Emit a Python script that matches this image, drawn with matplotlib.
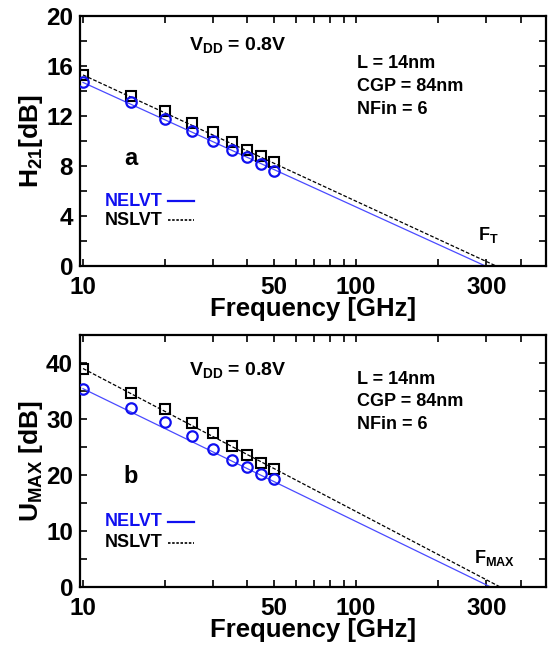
import numpy as np
import matplotlib
matplotlib.use("Agg")
import matplotlib.pyplot as plt
from matplotlib.ticker import FixedLocator, NullFormatter, MultipleLocator

plt.rcParams.update({
    "font.family": ["Liberation Sans", "DejaVu Sans"],
    "font.weight": "bold",
    "axes.labelweight": "bold",
    "mathtext.fontset": "custom",
    "mathtext.rm": "Liberation Sans:bold",
    "mathtext.it": "Liberation Sans:bold",
    "mathtext.bf": "Liberation Sans:bold",
    "mathtext.default": "rm",
    "axes.linewidth": 1.6,
    "xtick.direction": "in",
    "ytick.direction": "in",
    "xtick.top": True,
    "ytick.right": True,
    "xtick.major.size": 5,
    "ytick.major.size": 5,
    "xtick.minor.size": 5,
    "ytick.minor.size": 5,
    "xtick.major.width": 1.2,
    "ytick.major.width": 1.2,
    "xtick.minor.width": 1.2,
    "ytick.minor.width": 1.2,
})

# measured frequencies [GHz]
freq = [10, 15, 20, 25, 30, 35, 40, 45, 50]

# current gain |H21| [dB]
h21_nelvt = [14.7, 13.1, 11.8, 10.85, 10.05, 9.3, 8.7, 8.15, 7.65]
h21_nslvt = [15.3, 13.6, 12.4, 11.45, 10.7, 9.95, 9.3, 8.85, 8.3]

# unilateral gain U [dB]
umax_nelvt = [35.3, 31.9, 29.4, 26.9, 24.6, 22.6, 21.4, 20.1, 19.3]
umax_nslvt = [38.9, 34.7, 31.7, 29.2, 27.4, 25.2, 23.6, 22.2, 21.0]

# extrapolation lines: (start freq, start gain) -> (cut-off freq, 0 dB)
fit_h21_nelvt = ([10, 298], [14.7, 0])
fit_h21_nslvt = ([10, 326], [15.3, 0])
fit_umax_nelvt = ([10, 311], [35.4, 0])
fit_umax_nslvt = ([10, 337], [39.0, 0])

xticks = [10, 50, 100, 300]
xminor = [20, 30, 40, 60, 70, 80, 90, 200, 400]

BLUE = "#1010f0"
BLUE_LINE = "#4a4aff"

fig = plt.figure(figsize=(5.48, 6.49), dpi=100)
ax1 = fig.add_axes([0.146, 0.590, 0.850, 0.385])
ax2 = fig.add_axes([0.146, 0.0955, 0.850, 0.3885])


def draw_panel(ax, fit_b, fit_k, y_b, y_k):
    ax.plot(*fit_b, color=BLUE_LINE, lw=0.9, zorder=2)
    ax.plot(*fit_k, color="black", lw=0.9, ls=(0, (3, 1.5)), zorder=2)
    ax.plot(freq, y_k, ls="none", marker="s", ms=6.5, mfc="none",
            mec="black", mew=1.5, zorder=3)
    ax.plot(freq, y_b, ls="none", marker="o", ms=7.5, mfc="none",
            mec=BLUE, mew=1.6, zorder=3)
    ax.set_xscale("log")
    ax.set_xlim(9.75, 495)
    ax.xaxis.set_major_locator(FixedLocator(xticks))
    ax.xaxis.set_major_formatter(plt.FixedFormatter([str(t) for t in xticks]))
    ax.xaxis.set_minor_locator(FixedLocator(xminor))
    ax.xaxis.set_minor_formatter(NullFormatter())
    ax.tick_params(axis="x", labelsize=17.5, pad=7)
    ax.tick_params(axis="y", labelsize=17.5, pad=5)
    ax.set_xlabel("Frequency [GHz]", fontsize=18.5, labelpad=-1)


draw_panel(ax1, fit_h21_nelvt, fit_h21_nslvt, h21_nelvt, h21_nslvt)
ax1.set_ylim(0, 20)
ax1.yaxis.set_major_locator(MultipleLocator(4))
ax1.yaxis.set_minor_locator(MultipleLocator(2))
ax1.set_ylabel("H$_{21}$[dB]", fontsize=19, labelpad=1)

draw_panel(ax2, fit_umax_nelvt, fit_umax_nslvt, umax_nelvt, umax_nslvt)
ax2.set_ylim(0, 45)
ax2.yaxis.set_major_locator(MultipleLocator(10))
ax2.yaxis.set_minor_locator(MultipleLocator(5))
ax2.set_ylabel("U$_{MAX}$ [dB]", fontsize=19, labelpad=1)

# text positions per panel (axes fractions)
panels = [
    (ax1, "a", "F$_T$", dict(vdd=0.884, info=0.72, tag=0.432,
                             leg=(0.26, 0.184), fx=0.854, fy=0.124)),
    (ax2, "b", "F$_{MAX}$", dict(vdd=0.861, info=0.734, tag=0.437,
                                 leg=(0.258, 0.175), fx=0.845, fy=0.115)),
]
for ax, tag, fname, p in panels:
    ax.text(0.234, p["vdd"], "V$_{DD}$ = 0.8V", transform=ax.transAxes,
            fontsize=14, ha="left", va="center")
    ax.text(0.595, p["info"], "L = 14nm\nCGP = 84nm\nNFin = 6",
            transform=ax.transAxes, fontsize=13, ha="left", va="center",
            linespacing=1.45)
    ax.text(0.094, p["tag"], tag, transform=ax.transAxes, fontsize=17,
            ha="left", va="center")
    ax.text(0.054, p["leg"][0], "NELVT", transform=ax.transAxes, fontsize=13,
            color=BLUE, ha="left", va="center")
    ax.text(0.054, p["leg"][1], "NSLVT", transform=ax.transAxes, fontsize=13,
            color="black", ha="left", va="center")
    ax.plot([0.189, 0.245], [p["leg"][0]] * 2, transform=ax.transAxes,
            color=BLUE, lw=1.6)
    ax.plot([0.189, 0.245], [p["leg"][1]] * 2, transform=ax.transAxes,
            color="black", lw=1.2, ls=(0, (1.5, 1)))
    ax.text(p["fx"], p["fy"], fname, transform=ax.transAxes, fontsize=13,
            ha="left", va="center")

fig.savefig("out.png", dpi=100)
